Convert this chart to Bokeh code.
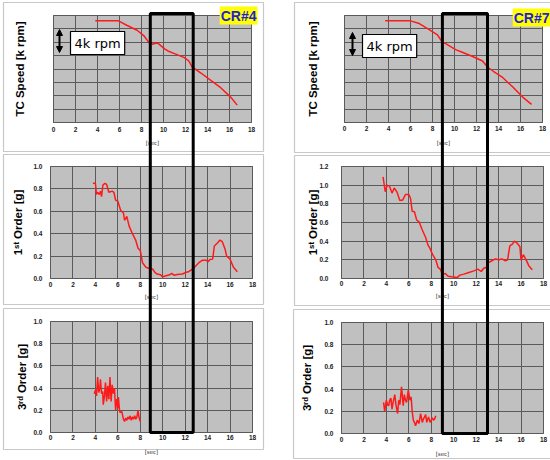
from bokeh.plotting import figure
from bokeh.models import (Range1d, FixedTicker, BoxAnnotation, Label, Arrow, NormalHead,
                          NumeralTickFormatter, LinearAxis, Grid)
from bokeh.embed import file_html
from bokeh.resources import INLINE

# ---------------- data ----------------
x_ticks = [0, 2, 4, 6, 8, 10, 12, 14, 16, 18]
speed_grid = [0, 2, 4, 6, 8, 10, 12, 14, 16]
g_ticks_10 = [0.0, 0.2, 0.4, 0.6, 0.8, 1.0]
g_ticks_12 = [0.0, 0.2, 0.4, 0.6, 0.8, 1.0, 1.2]

tc4_t = [3.8, 5.9, 6.7, 7.6, 8.2, 8.7, 9.0, 9.2, 9.45, 9.75, 10.1, 10.4, 11.0, 11.9, 12.3, 12.6, 13.4, 14.3, 15.2, 16.1, 16.7]
tc4_v = [15.2, 15.2, 14.5, 13.8, 13.0, 11.9, 11.7, 11.8, 11.9, 11.5, 11.0, 10.7, 10.3, 9.7, 9.2, 8.3, 7.4, 6.3, 5.2, 3.8, 2.6]

tc7_t = [3.7, 6.0, 6.8, 7.7, 8.45, 8.9, 9.2, 10.1, 10.7, 11.6, 12.55, 13.0, 13.5, 14.4, 15.3, 16.2, 17.0]
tc7_v = [15.2, 15.2, 14.8, 13.9, 13.1, 12.0, 11.8, 10.9, 10.5, 9.9, 9.2, 8.3, 7.7, 6.7, 5.3, 3.8, 2.7]

o1_4_t = [3.78, 4.0, 4.1, 4.2, 4.35, 4.46, 4.55, 4.67, 4.85, 5.0, 5.2, 5.5, 5.65, 5.8, 6.0, 6.25, 6.5, 6.6, 6.8, 7.0,
          7.3, 7.6, 7.8, 8.0, 8.2, 8.5, 8.8, 9.1, 9.3, 9.5, 9.8, 10.0, 10.3, 10.6, 10.8, 11.0, 11.3, 11.75, 12.05, 12.35,
          12.65, 12.95, 13.25, 13.55, 13.85, 14.05, 14.2, 14.45, 14.6, 14.9, 15.1, 15.3, 15.55, 15.7, 16.0, 16.3, 16.65]
o1_4_v = [0.85, 0.85, 0.75, 0.77, 0.75, 0.78, 0.73, 0.835, 0.85, 0.84, 0.77, 0.78, 0.77, 0.70, 0.69, 0.61, 0.585, 0.52, 0.555, 0.47,
          0.40, 0.34, 0.27, 0.25, 0.14, 0.10, 0.09, 0.085, 0.054, 0.04, 0.033, 0.015, 0.024, 0.033, 0.045, 0.03, 0.035, 0.04, 0.054, 0.063,
          0.084, 0.113, 0.143, 0.164, 0.164, 0.15, 0.17, 0.173, 0.29, 0.32, 0.343, 0.33, 0.264, 0.20, 0.173, 0.10, 0.06]

o1_7_t = [3.7, 3.9, 4.07, 4.27, 4.5, 4.7, 4.95, 5.2, 5.45, 5.7, 6.0, 6.15, 6.3, 6.5, 6.7, 6.9, 7.2, 7.5, 7.7, 7.9,
          8.1, 8.4, 8.6, 8.8, 9.0, 9.25, 9.5, 9.85, 10.3, 10.55, 10.9, 11.35, 11.8, 12.15, 12.45, 12.65, 12.9, 13.1, 13.4, 13.7,
          14.05, 14.3, 14.6, 14.8, 15.0, 15.25, 15.4, 15.6, 15.9, 16.0, 16.2, 16.45, 16.7, 17.0]
o1_7_v = [1.09, 0.93, 1.0, 0.99, 0.915, 0.97, 0.925, 0.835, 0.84, 0.90, 0.90, 0.86, 0.72, 0.715, 0.625, 0.61, 0.52, 0.44, 0.36, 0.32,
          0.26, 0.20, 0.12, 0.10, 0.047, 0.054, 0.025, 0.018, 0.01, 0.036, 0.047, 0.065, 0.082, 0.10, 0.075, 0.107, 0.12, 0.17, 0.19, 0.21,
          0.20, 0.21, 0.19, 0.20, 0.35, 0.37, 0.40, 0.385, 0.34, 0.195, 0.255, 0.20, 0.135, 0.093]

o3_4_t = [3.9, 4.0, 4.1, 4.2, 4.3, 4.4, 4.45, 4.55, 4.65, 4.7, 4.8, 4.9, 5.0, 5.1, 5.2, 5.3, 5.4, 5.5, 5.6, 5.7,
          5.8, 5.9, 6.0, 6.05, 6.15, 6.2, 6.35, 6.5, 6.6, 6.7, 6.8, 6.9, 7.0, 7.1, 7.2, 7.3, 7.4, 7.5, 7.6, 7.7, 7.8, 7.9, 8.0]
o3_4_v = [0.35, 0.38, 0.33, 0.50, 0.36, 0.40, 0.48, 0.35, 0.37, 0.25, 0.32, 0.45, 0.28, 0.42, 0.30, 0.50, 0.28, 0.43, 0.35, 0.40,
          0.20, 0.30, 0.22, 0.32, 0.20, 0.18, 0.19, 0.12, 0.10, 0.13, 0.11, 0.14, 0.12, 0.15, 0.11, 0.14, 0.12, 0.15, 0.12, 0.14, 0.20, 0.13, 0.10]

o3_7_t = [3.75, 3.85, 4.0, 4.1, 4.2, 4.3, 4.4, 4.5, 4.6, 4.75, 4.85, 5.0, 5.1, 5.2, 5.35, 5.5, 5.6, 5.7, 5.8, 5.95,
          6.1, 6.2, 6.3, 6.4, 6.5, 6.6, 6.75, 6.9, 7.05, 7.2, 7.3, 7.4, 7.5, 7.6, 7.75, 7.9, 8.0, 8.1, 8.2, 8.3, 8.4]
o3_7_v = [0.28, 0.20, 0.30, 0.26, 0.25, 0.30, 0.32, 0.22, 0.28, 0.35, 0.26, 0.18, 0.30, 0.26, 0.42, 0.25, 0.35, 0.30, 0.28, 0.39,
          0.30, 0.33, 0.20, 0.12, 0.10, 0.07, 0.12, 0.09, 0.18, 0.10, 0.13, 0.15, 0.17, 0.10, 0.15, 0.10, 0.12, 0.14, 0.12, 0.13, 0.16]

box4 = (8.8, 12.7)
box7 = (8.9, 13.0)
box_top_speed = 16.3

# ---------------- styling / layout ----------------
W, H = 550, 460
FRAME_BG = "#c0c0c0"
GRID = "#5a5a5a"
RED = "#ff1a1a"
PANEL_LINE = "#c8c8c8"
TICK_FONT = "Liberation Sans"
LABEL_FONT = "Liberation Sans"

# whole page is one frame; default ranges are page pixels (y downward)
p = figure(width=W, height=H, output_backend="svg", toolbar_location=None,
           x_range=Range1d(0, W), y_range=Range1d(H, 0),
           x_axis_location=None, y_axis_location=None,
           min_border=0, min_border_left=0, min_border_right=0,
           min_border_top=0, min_border_bottom=0,
           background_fill_color="white", border_fill_color="white")
p.outline_line_color = None
p.grid.visible = False

HAS_CROSS = "cross_bounds" in Grid.properties()


def add_panel(name, fx0, fx1, fy0, fy1, ymax, yticks, ylabel, show_y, ylab_std, ytick_std,
              xtick_std, xlab_std, xs, ys, border):
    kx = (fx1 - fx0) / 18.0
    sx = -fx0 / kx
    p.extra_x_ranges[name] = Range1d(sx, sx + W / kx)
    ky = (fy1 - fy0) / ymax
    sy = -(H - fy1) / ky
    p.extra_y_ranges[name] = Range1d(sy, sy + H / ky)
    rn = dict(x_range_name=name, y_range_name=name)

    # panel border (page pixels)
    p.add_layout(BoxAnnotation(left=border[0], right=border[1], top=border[2], bottom=border[3],
                               fill_alpha=0, line_color=PANEL_LINE, line_alpha=1, line_width=1.2,
                               level="image"))
    # grey plot area
    p.add_layout(BoxAnnotation(left=0, right=18, bottom=0, top=ymax, fill_color=FRAME_BG,
                               fill_alpha=1, line_color=GRID, line_alpha=1, line_width=1,
                               level="image", **rn))
    # grids
    if HAS_CROSS:
        p.add_layout(Grid(dimension=0, ticker=FixedTicker(ticks=x_ticks), bounds=(0, 18),
                          cross_bounds=(0, ymax), grid_line_color=GRID, grid_line_width=1, **rn))
        p.add_layout(Grid(dimension=1, ticker=FixedTicker(ticks=yticks), bounds=(0, ymax),
                          cross_bounds=(0, 18), grid_line_color=GRID, grid_line_width=1, **rn))
    else:
        p.segment(x0=x_ticks, y0=[0] * len(x_ticks), x1=x_ticks, y1=[ymax] * len(x_ticks),
                  line_color=GRID, line_width=1, **rn)
        p.segment(x0=[0] * len(yticks), y0=yticks, x1=[18] * len(yticks), y1=yticks,
                  line_color=GRID, line_width=1, **rn)

    xa = LinearAxis(fixed_location=0, ticker=FixedTicker(ticks=x_ticks), bounds=(0, 18),
                    axis_label="[sec]", **rn)
    ya = LinearAxis(fixed_location=0, ticker=FixedTicker(ticks=yticks if show_y else []),
                    bounds=(0, ymax), axis_label=ylabel, **rn)
    for ax in (xa, ya):
        ax.axis_line_color = None
        ax.major_tick_line_color = None
        ax.minor_tick_line_color = None
        ax.major_tick_out = 0
        ax.major_tick_in = 0
        ax.minor_tick_out = 0
        ax.minor_tick_in = 0
        ax.major_label_text_font = TICK_FONT
        ax.major_label_text_font_style = "bold"
        ax.major_label_text_font_size = "6.5px"
        ax.major_label_text_color = "#222222"
    xa.major_label_standoff = xtick_std
    xa.axis_label_text_font = "DejaVu Sans"
    xa.axis_label_text_font_size = "5.5px"
    xa.axis_label_text_font_style = "normal"
    xa.axis_label_text_color = "#333333"
    xa.axis_label_standoff = xlab_std
    ya.formatter = NumeralTickFormatter(format="0.0")
    ya.major_label_standoff = ytick_std
    ya.axis_label_text_font = LABEL_FONT
    ya.axis_label_text_font_style = "bold"
    ya.axis_label_text_font_size = "11.5px"
    ya.axis_label_text_color = "black"
    ya.axis_label_standoff = ylab_std
    p.add_layout(xa, "below")
    p.add_layout(ya, "left")

    p.line(xs, ys, line_color=RED, line_width=1.5, **rn)
    return name


def px_y(name, v):
    r = p.extra_y_ranges[name]
    return H - (v - r.start) / (r.end - r.start) * H


# left column (CR#4)
add_panel("tl", 53, 251, 15, 122, 16, speed_grid, "TC Speed [k rpm]", False, 28, 8, 4, 5,
          tc4_t, tc4_v, (3, 263, 2, 151))
add_panel("ml", 50, 252, 166, 278, 1.0, g_ticks_10, "1\u02e2\u1d57 Order [g]", True, 6, 8, 3, 4,
          o1_4_t, o1_4_v, (3, 263, 154, 304))
add_panel("bl", 50, 252, 321, 432, 1.0, g_ticks_10, "3\u02b3\u1d48 Order [g]", True, 2, 8, 2, 6,
          o3_4_t, o3_4_v, (3, 263, 308, 449))

# right column (CR#7)
add_panel("tr", 344, 542, 15, 122, 16, speed_grid, "TC Speed [k rpm]", False, 26, 8, 3, 6,
          tc7_t, tc7_v, (294, 556, 2, 152))
add_panel("mr", 341, 543, 166, 278, 1.2, g_ticks_12, "1\u02e2\u1d57 Order [g]", True, -3, 13, 2, 4,
          o1_7_t, o1_7_v, (294, 556, 155, 305))
add_panel("br", 341, 543, 322, 433, 1.0, g_ticks_10, "3\u02b3\u1d48 Order [g]", True, 8, 8, 3, 6,
          o3_7_t, o3_7_v, (293, 556, 309, 458))

# black highlight boxes spanning the three panels of each column
p.add_layout(BoxAnnotation(left=box4[0], right=box4[1], x_range_name="tl",
                           top=px_y("tl", box_top_speed), bottom=px_y("bl", 0),
                           fill_alpha=0, line_color="black", line_alpha=1, line_width=3,
                           level="overlay"))
p.add_layout(BoxAnnotation(left=box7[0], right=box7[1], x_range_name="tr",
                           top=px_y("tr", box_top_speed), bottom=px_y("br", 0),
                           fill_alpha=0, line_color="black", line_alpha=1, line_width=3,
                           level="overlay"))


def tag(text, x, y):
    p.add_layout(Label(x=x, y=y, text=text, anchor="top_right",
                       text_font=LABEL_FONT, text_font_style="bold", text_font_size="14px",
                       text_color="#1f1fd8", background_fill_color="#ffff00", padding=1))


def rpm_marker(ax, ay0, ay1, bx, by):
    mid = (ay0 + ay1) / 2
    for end_y in (ay0, ay1):
        p.add_layout(Arrow(x_start=ax, y_start=mid, x_end=ax, y_end=end_y,
                           end=NormalHead(size=6, fill_color="black", line_color="black"),
                           line_width=2, line_color="black"))
    p.add_layout(Label(x=bx, y=by, text="4k rpm", anchor="top_left",
                       text_font="DejaVu Sans", text_font_size="13px", text_color="black",
                       background_fill_color="white", border_line_color="black",
                       border_line_width=1.2, padding=4))


tag("CR#4", 257, 6)
tag("CR#7", 550, 8)
rpm_marker(59, 29, 52, 70, 31)
rpm_marker(352, 32, 55, 362, 34)

open("out.html", "w").write(file_html(p, INLINE))
